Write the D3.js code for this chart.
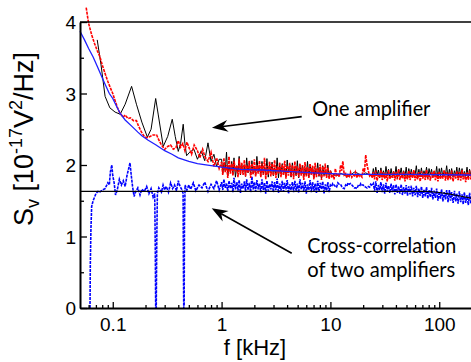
<!DOCTYPE html>
<html><head><meta charset="utf-8">
<script src="https://cdn.jsdelivr.net/npm/d3@7/dist/d3.min.js"></script>
<style>body{margin:0;background:#fff}svg{display:block}</style>
</head><body><svg id="c" width="471" height="362"></svg>
<script>
// ---------- data ----------
const xMajorTicks = [0.1, 1, 10, 100];
const xTickLabels = ["0.1", "1", "10", "100"];
const xMinorTicks = [0.06,0.07,0.08,0.09,0.2,0.3,0.4,0.5,0.6,0.7,0.8,0.9,2,3,4,5,6,7,8,9,20,30,40,50,60,70,80,90,200];
const yMajorTicks = [0, 1, 2, 3, 4];
const yTickLabels = ["0", "1", "2", "3", "4"];
const yMinorTicks = [0.5, 1.5, 2.5, 3.5];

// one amplifier, measurement 1 (black solid), low-frequency part
const blackLowF = [0.072,0.078,0.085,0.094,0.105,0.117,0.13,0.149,0.165,0.185,0.208,0.225,0.248,0.262,0.291,0.32,0.352,0.375,0.40,0.42,0.444,0.46,0.477,0.51,0.557,0.6,0.65,0.7,0.75,0.8,0.85,0.9,0.95];
const blackLowV = [3.75,3.4,2.96,2.8,2.74,2.71,2.85,3.1,2.85,2.6,2.39,2.5,2.93,2.7,2.26,2.4,2.64,2.4,2.19,2.3,2.57,2.3,2.13,2.18,2.22,2.08,2.2,2.06,2.31,2.05,2.15,1.98,2.08];

// one amplifier, measurement 2 (red dotted), low-frequency part
const redLowF = [0.057,0.06,0.064,0.068,0.072,0.076,0.08,0.085,0.09,0.095,0.1,0.106,0.112,0.117,0.125,0.13,0.138,0.145,0.155,0.165,0.172,0.185,0.195,0.205,0.22,0.235,0.253,0.265,0.28,0.3,0.32,0.34,0.36,0.38,0.4,0.42,0.44,0.46,0.48,0.5,0.53,0.56,0.6,0.63,0.67,0.7,0.75,0.8,0.85,0.9,0.95];
const redLowV = [4.2,3.98,3.82,3.7,3.6,3.52,3.4,3.28,3.17,3.08,3.0,2.88,2.78,2.72,2.67,2.7,2.65,2.66,2.62,2.62,2.55,2.45,2.4,2.38,2.4,2.42,2.42,2.35,2.28,2.22,2.26,2.28,2.22,2.24,2.34,2.25,2.3,2.2,2.32,2.25,2.15,2.28,2.2,2.1,2.22,2.12,2.05,2.18,1.98,2.1,1.95];

// cross-correlation (blue dotted), low-frequency part
const crossLowF = [0.0618,0.0622,0.063,0.064,0.066,0.068,0.07,0.073,0.076,0.08,0.085,0.09,0.093,0.095,0.098,0.1,0.103,0.106,0.11,0.115,0.12,0.125,0.13,0.135,0.14,0.144,0.148,0.152,0.157,0.162,0.17,0.178,0.185,0.195,0.205,0.215,0.225,0.235,0.243,0.246,0.248,0.251,0.254,0.257,0.265,0.28,0.29,0.3,0.31,0.325,0.34,0.355,0.37,0.385,0.4,0.415,0.43,0.443,0.446,0.449,0.453,0.456,0.462,0.48,0.5,0.52,0.55,0.58,0.62,0.66,0.7,0.75,0.8,0.85,0.9,0.95];
const crossLowV = [0,0.6,1.1,1.42,1.5,1.55,1.6,1.63,1.62,1.65,1.67,1.75,1.72,1.9,2.0,1.85,1.75,1.58,1.65,1.8,1.72,1.78,1.7,1.85,1.95,2.03,1.85,1.7,1.56,1.62,1.68,1.58,1.66,1.63,1.7,1.6,1.67,1.55,1.6,0.8,0,0,1.0,1.6,1.68,1.62,1.72,1.65,1.7,1.62,1.75,1.67,1.72,1.64,1.78,1.7,1.66,1.6,0.6,0,0.05,1.2,1.72,1.65,1.72,1.66,1.75,1.64,1.72,1.68,1.76,1.63,1.73,1.67,1.78,1.65];

// high-frequency noise band, grid A (upper excursions)
const bandF = [1.00,1.05,1.11,1.17,1.24,1.30,1.38,1.45,1.53,1.62,1.70,1.80,1.90,2.00,2.11,2.23,2.35,2.48,2.61,2.76,2.91,3.07,3.24,3.42,3.61,3.80,4.01,4.23,4.47,4.71,4.97,5.25,5.54,5.84,6.16,6.50,6.86,7.24,7.64,8.06,8.50,8.97,9.47,10.0,10.5,11.1,11.7,12.4,13.0,13.8,14.5,15.3,16.2,17.0,18.0,19.0,20.0,21.1,22.3,23.5,24.8,26.1,27.6,29.1,30.7,32.4,34.2,36.1,38.0,40.1,42.3,44.7,47.1,49.7,52.5,55.4,58.4,61.6,65.0,68.6,72.4,76.4,80.6,85.0,89.7,94.7,100,105,111,117,124,130,138,145,153,162,170,180,190,200];
const blackBandV = [2.08,2.0,2.18,1.98,2.05,2.1,1.99,2.12,2.02,1.97,2.1,2.03,2.06,
  1.98,2.12,2.0,2.05,1.97,2.09,2.02,2.04,1.96,2.1,2.0,2.02,1.95,2.07,1.99,2.03,1.96,2.06,1.98,2.0,1.95,2.05,2.0,1.98,1.94,2.03,1.97,1.99,1.93,2.0,
  1.92,1.87,1.85,1.86,1.88,1.87,1.85,1.84,1.86,1.89,1.9,1.88,1.86,1.87,1.89,1.87,1.85,
  1.95,1.97,1.93,1.96,1.92,1.98,1.94,1.95,1.91,1.98,1.94,1.96,1.92,1.97,1.95,1.94,1.91,1.99,1.94,1.96,1.92,1.97,1.95,1.94,1.91,1.98,1.95,1.96,1.92,1.99,1.94,1.95,1.92,1.97,1.96,1.95,1.91,1.97,1.94,1.95];
const redBandV = [2.04,2.1,2.0,2.12,2.02,2.06,1.99,2.09,2.03,2.07,2.0,2.06,2.02,
  2.08,2.0,2.06,2.02,2.1,1.99,2.05,2.02,2.07,1.98,2.04,2.01,2.06,1.99,2.03,2.0,2.05,1.98,2.02,2.0,2.04,1.97,2.02,1.99,2.03,1.96,2.01,1.98,2.02,1.97,
  1.92,1.86,1.95,1.88,2.0,2.05,1.88,1.86,1.9,1.86,1.9,1.88,1.85,1.95,2.14,1.92,1.88,
  1.9,1.92,1.88,1.93,1.9,1.89,1.93,1.88,1.91,1.9,1.94,1.89,1.91,1.88,1.92,1.9,1.93,1.88,1.9,1.91,1.89,1.93,1.88,1.9,1.92,1.89,1.91,1.88,1.93,1.9,1.89,1.92,1.88,1.91,1.9,1.93,1.89,1.9,1.92,1.88];
const crossBandV = [1.76,1.8,1.74,1.78,1.75,1.82,1.76,1.79,1.74,1.77,1.8,1.75,1.84,
  1.76,1.79,1.74,1.8,1.75,1.78,1.73,1.77,1.76,1.81,1.74,1.78,1.75,1.79,1.73,1.76,1.78,1.74,1.8,1.75,1.77,1.73,1.79,1.76,1.74,1.78,1.75,1.77,1.73,1.76,
  1.72,1.74,1.7,1.75,1.73,1.68,1.72,1.75,1.74,1.7,1.68,1.71,1.74,1.72,1.69,1.7,1.73,
  1.74,1.77,1.72,1.76,1.73,1.75,1.71,1.74,1.72,1.73,1.7,1.73,1.69,1.72,1.7,1.71,1.68,1.71,1.67,1.7,1.66,1.69,1.65,1.68,1.64,1.67,1.63,1.66,1.62,1.65,1.65,1.62,1.64,1.6,1.63,1.59,1.62,1.58,1.61,1.6];

// high-frequency noise band, grid B (in-between frequencies, lower excursions)
const bandF2 = [1.025,1.08,1.14,1.205,1.27,1.34,1.415,1.49,1.575,1.66,1.75,1.85,1.95,2.055,2.17,2.29,2.415,2.545,2.685,2.835,2.99,3.155,3.33,3.515,3.705,3.905,4.12,4.35,4.59,4.84,5.11,5.395,5.69,6.0,6.33,6.68,7.05,7.44,7.85,8.28,8.735,9.22,9.73,10.25,10.8,11.4,12.05,12.7,13.4,14.15,14.9,15.75,16.6,17.5,18.5,19.5,20.55,21.7,22.9,24.15,25.45,26.85,28.35,29.9,31.55,33.3,35.15,37.05,39.05,41.2,43.5,45.9,48.4,51.1,53.95,56.9,60.0,63.3,66.8,70.5,74.4,78.5,82.8,87.3,92.2,97.3,102.5,108,114,120.5,127,134,141.5,149,157.5,166,175,185,195];
const blackBandV2 = [1.88,1.92,1.85,1.9,1.87,1.83,1.9,1.86,1.91,1.84,1.89,1.86,1.88,
  1.85,1.9,1.84,1.88,1.86,1.83,1.89,1.85,1.87,1.82,1.88,1.86,1.84,1.89,1.83,1.86,1.85,1.82,1.88,1.84,1.86,1.83,1.87,1.82,1.85,1.84,1.81,1.86,1.83,1.85,
  1.89,1.86,1.85,1.87,1.88,1.86,1.84,1.85,1.87,1.9,1.89,1.87,1.86,1.88,1.88,1.86,1.84,
  1.84,1.86,1.82,1.85,1.83,1.86,1.82,1.84,1.85,1.82,1.86,1.83,1.84,1.81,1.85,1.83,1.86,1.82,1.84,1.83,1.85,1.82,1.86,1.83,1.84,1.81,1.85,1.83,1.86,1.82,1.84,1.83,1.85,1.82,1.86,1.83,1.84,1.82,1.85];
const redBandV2 = [1.86,1.9,1.82,1.88,1.85,1.91,1.83,1.87,1.86,1.84,1.89,1.82,1.87,
  1.84,1.88,1.83,1.86,1.8,1.87,1.84,1.85,1.82,1.88,1.83,1.86,1.81,1.85,1.84,1.8,1.86,1.83,1.85,1.79,1.84,1.82,1.86,1.8,1.83,1.85,1.79,1.84,1.82,1.8,
  1.84,1.8,1.86,1.83,1.92,1.86,1.82,1.84,1.83,1.85,1.82,1.84,1.83,1.9,2.0,1.85,1.82,
  1.8,1.78,1.82,1.79,1.81,1.77,1.8,1.82,1.78,1.8,1.79,1.81,1.77,1.8,1.79,1.82,1.78,1.8,1.77,1.81,1.79,1.8,1.78,1.82,1.79,1.77,1.8,1.81,1.78,1.79,1.8,1.77,1.81,1.79,1.78,1.8,1.76,1.79,1.8];
const crossBandV2 = [1.65,1.68,1.63,1.67,1.62,1.66,1.64,1.61,1.67,1.63,1.65,1.62,1.66,
  1.63,1.66,1.62,1.65,1.6,1.64,1.66,1.62,1.65,1.61,1.64,1.63,1.66,1.6,1.65,1.62,1.64,1.61,1.66,1.63,1.6,1.65,1.62,1.64,1.61,1.63,1.66,1.6,1.64,1.62,
  1.7,1.72,1.69,1.73,1.7,1.67,1.7,1.73,1.72,1.68,1.67,1.7,1.72,1.7,1.68,1.69,1.71,
  1.64,1.61,1.65,1.62,1.6,1.63,1.61,1.62,1.59,1.61,1.6,1.58,1.6,1.57,1.59,1.56,1.58,1.55,1.57,1.54,1.56,1.53,1.55,1.52,1.54,1.5,1.53,1.49,1.52,1.48,1.5,1.47,1.49,1.46,1.48,1.45,1.47,1.44,1.46];

// fit curves
const fitOneF = [0.05,0.055,0.06,0.066,0.072,0.078,0.085,0.093,0.1,0.11,0.117,0.13,0.15,0.17,0.185,0.21,0.25,0.3,0.35,0.4,0.5,0.6,0.8,1,1.5,2.4,4,7,15,50,200];
const fitOneV = [3.87,3.75,3.63,3.51,3.38,3.26,3.13,3.0,2.93,2.8,2.72,2.63,2.54,2.46,2.41,2.35,2.28,2.2,2.15,2.1,2.05,2.02,1.99,1.97,1.94,1.93,1.91,1.89,1.87,1.87,1.86];
const fitCrossF = [0.05,77,100,122,150,200];
const fitCrossV = [1.63,1.63,1.615,1.595,1.57,1.535];

// annotations (data coordinates)
const notes = [
  {lines:["One amplifier"], f:6.82, v:2.685, tipF:0.816, tipV:2.52, tailF:5.45, tailV:2.676, widths:[118]},
  {lines:["Cross-correlation","of two amplifiers"], f:6.13, v:0.765, tipF:0.811, tipV:1.394, tailF:4.41, tailV:0.765, widths:[149,148]}
];

// ---------- chart ----------
const svg = d3.select("#c");
const x = d3.scaleLog().domain([0.05, 200]).range([80, 472]);
const y = d3.scaleLinear().domain([0, 4]).range([308, 22]);
const FONT = "'Liberation Sans', Arial, sans-serif";

const zip = (fs, vs) => fs.map((f, i) => [f, vs[i]]);
const bySort = a => a.sort((p, q) => p[0] - q[0]);
const black = zip(blackLowF, blackLowV).concat(bySort(zip(bandF, blackBandV).concat(zip(bandF2, blackBandV2))));
const red = zip(redLowF, redLowV).concat(bySort(zip(bandF, redBandV).concat(zip(bandF2, redBandV2))));
const cross = zip(crossLowF, crossLowV).concat(bySort(zip(bandF, crossBandV).concat(zip(bandF2, crossBandV2))));
const fitOne = zip(fitOneF, fitOneV);
const fitCross = zip(fitCrossF, fitCrossV);

const line = d3.line().x(d => x(d[0])).y(d => y(d[1]));

svg.append("path").datum(cross).attr("d", line).attr("fill", "none")
  .attr("stroke", "#0000ff").attr("stroke-width", 1.6).attr("stroke-dasharray", "3,1");
svg.append("path").datum(fitCross).attr("d", line).attr("fill", "none")
  .attr("stroke", "#000").attr("stroke-width", 1.2);
svg.append("path").datum(black).attr("d", line).attr("fill", "none")
  .attr("stroke", "#000").attr("stroke-width", 1);
svg.append("path").datum(red).attr("d", line).attr("fill", "none")
  .attr("stroke", "#ff0000").attr("stroke-width", 1.6).attr("stroke-dasharray", "3,1");
svg.append("path").datum(fitOne).attr("d", line).attr("fill", "none")
  .attr("stroke", "#1f1fff").attr("stroke-width", 1.3);

// top frame line
svg.append("line").attr("x1", x(0.05)).attr("x2", x(200)).attr("y1", y(4)).attr("y2", y(4))
  .attr("stroke", "#000").attr("stroke-width", 1.5);

// axes
const yAx = svg.append("g").attr("transform", `translate(${x(0.05)},0)`)
  .call(d3.axisLeft(y).tickValues(yMajorTicks).tickFormat((d, i) => yTickLabels[i])
    .tickSizeInner(-7).tickSizeOuter(0).tickPadding(4));
svg.append("g").attr("transform", `translate(${x(0.05)},0)`)
  .call(d3.axisLeft(y).tickValues(yMinorTicks).tickFormat("").tickSizeInner(-4).tickSizeOuter(0))
  .select(".domain").remove();
const xAx = svg.append("g").attr("transform", `translate(0,${y(0)})`)
  .call(d3.axisBottom(x).tickValues(xMajorTicks).tickFormat((d, i) => xTickLabels[i])
    .tickSizeInner(-6).tickSizeOuter(0).tickPadding(10));
svg.append("g").attr("transform", `translate(0,${y(0)})`)
  .call(d3.axisBottom(x).tickValues(xMinorTicks).tickFormat("").tickSizeInner(-3).tickSizeOuter(0))
  .select(".domain").remove();

svg.selectAll(".domain").attr("stroke-width", 2);
svg.selectAll(".tick line").attr("stroke-width", 1.3);
svg.selectAll(".tick text").attr("font-family", FONT).attr("font-size", 19).attr("fill", "#000");
yAx.selectAll(".tick text").attr("dy", "0.36em");

// axis titles
svg.append("text").attr("x", 255).attr("y", 355).attr("text-anchor", "middle")
  .attr("font-family", FONT).attr("font-size", 22).text("f [kHz]");

const yt = svg.append("text").attr("transform", "translate(33,139) rotate(-90)")
  .attr("text-anchor", "middle").attr("font-family", FONT).attr("font-size", 27);
yt.append("tspan").text("S");
yt.append("tspan").attr("dy", 6).attr("font-size", 18).text("v");
yt.append("tspan").attr("dy", -6).text(" [10");
yt.append("tspan").attr("dy", -11).attr("font-size", 18).text("-17");
yt.append("tspan").attr("dy", 11).text("V");
yt.append("tspan").attr("dy", -11).attr("font-size", 18).text("2");
yt.append("tspan").attr("dy", 11).text("/Hz]");

// annotations
function arrow(x1, y1, x2, y2) {
  const dx = x2 - x1, dy = y2 - y1, L = Math.hypot(dx, dy);
  const ux = dx / L, uy = dy / L, px = -uy, py = ux;
  const len = 16, hw = 6, notch = 11;
  const bx = x2 - ux * len, by = y2 - uy * len;
  const nx = x2 - ux * notch, ny = y2 - uy * notch;
  svg.append("line").attr("x1", x1).attr("y1", y1).attr("x2", nx).attr("y2", ny)
    .attr("stroke", "#000").attr("stroke-width", 1.6);
  svg.append("path").attr("d", `M${x2},${y2}L${bx + px * hw},${by + py * hw}L${nx},${ny}L${bx - px * hw},${by - py * hw}Z`)
    .attr("fill", "#000");
}
notes.forEach(n => {
  arrow(x(n.tailF), y(n.tailV), x(n.tipF), y(n.tipV));
  n.lines.forEach((t, i) => {
    svg.append("text").attr("x", x(n.f)).attr("y", y(n.v) + i * 24)
      .attr("font-family", "Lato, 'Open Sans', sans-serif").attr("font-size", 21)
      .attr("textLength", n.widths[i]).attr("lengthAdjust", "spacingAndGlyphs")
      .attr("fill", "#000").text(t);
  });
});
</script></body></html>
